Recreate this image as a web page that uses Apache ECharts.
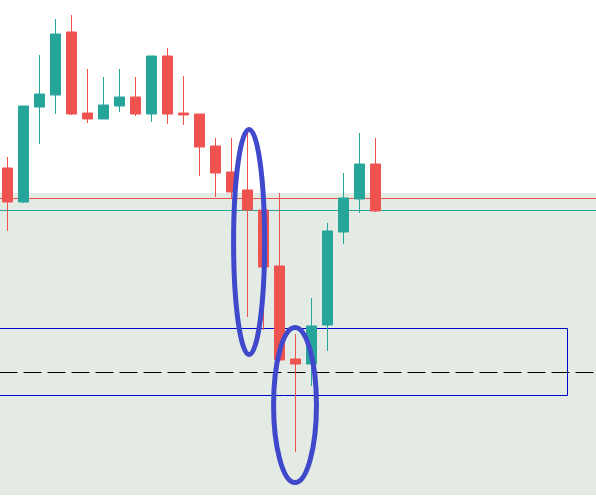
<!DOCTYPE html>
<html>
<head>
<meta charset="utf-8">
<script src="https://cdn.jsdelivr.net/npm/echarts@6/dist/echarts.min.js"></script>
<style>
  html, body { margin: 0; padding: 0; background: #fff; }
  #chart { width: 596px; height: 498px; }
</style>
</head>
<body>
<div id="chart"></div>
<script>
// candle values (price units)
const opens  = [330, 296, 391, 403, 466, 385, 379, 392, 401, 384, 442, 385, 384, 352, 326, 308, 288, 232, 139, 134, 173, 266, 299, 334];
const closes = [296, 392, 404, 464, 384, 379, 393, 401, 384, 442, 384, 383, 351, 325, 306, 288, 231, 138, 134, 172, 267, 300, 334, 287];
const lows   = [267, 295, 354, 384, 383, 375, 379, 386, 382, 376, 374, 373, 322, 301, 299, 181, 168, 136,  46, 112, 147, 254, 285, 286];
const highs  = [341, 392, 443, 479, 483, 429, 421, 429, 421, 442, 450, 422, 384, 360, 360, 365, 288, 305, 164, 200, 275, 325, 365, 360];

// empty slots continue to the right edge
const slotCount = 38;
const categories = Array.from({ length: slotCount }, (_, i) => String(i + 1));

// horizontal levels
const zoneTop = 305;
const zoneBottom = 3;
const redLevel = 299.5;
const tealLevel = 287.5;
const dashLevel = 125.5;
const boxTop = 169.5;
const boxBottom = 102.5;
const boxEndSlot = 35;

// highlight ellipses: [slot, price, half width in slots, half height in price]
const ellipses = [
  [15.1, 256, 0.97, 112.5],
  [17.97, 93, 1.34, 77.5],
];

const UP = "#26a69a";
const DOWN = "#ef5350";

const chart = echarts.init(document.getElementById("chart"));

const candles = opens.map((o, i) => [o, closes[i], lows[i], highs[i]]);

const option = {
  animation: false,
  backgroundColor: "#ffffff",
  grid: { left: -0.5, top: 0, width: 608, height: 498, outerBoundsMode: "none", containLabel: false },
  xAxis: {
    type: "category",
    data: categories,
    show: false,
  },
  yAxis: {
    type: "value",
    min: 0,
    max: 498,
    show: false,
    splitLine: { show: false },
  },
  series: [
    {
      type: "candlestick",
      data: candles,
      barWidth: 10,
      z: 2,
      itemStyle: {
        color: UP,
        color0: DOWN,
        borderColor: UP,
        borderColor0: DOWN,
        borderWidth: 1,
      },
      markArea: {
        silent: true,
        z: 1,
        data: [
          [
            { xAxis: -Infinity, yAxis: zoneTop, itemStyle: { color: "#e4ebe4" } },
            { xAxis: Infinity, yAxis: zoneBottom },
          ],
          [
            {
              xAxis: -Infinity,
              yAxis: boxTop,
              itemStyle: { color: "rgba(0,0,0,0)", borderColor: "#0000cc", borderWidth: 1 },
            },
            { xAxis: boxEndSlot, yAxis: boxBottom },
          ],
        ],
      },
      markLine: {
        silent: true,
        symbol: ["none", "none"],
        z: 1.5,
        label: { show: false },
        data: [
          { yAxis: redLevel, lineStyle: { color: DOWN, width: 1, type: "solid" } },
          { yAxis: tealLevel, lineStyle: { color: UP, width: 1, type: "solid" } },
          { yAxis: dashLevel, lineStyle: { color: "#000000", width: 1.2, type: [18, 6] } },
        ],
      },
    },
  ],
};

chart.setOption(option);

// ellipses placed through the chart's own axes
function slotToPx(slot, price) {
  const i0 = Math.floor(slot);
  const a = chart.convertToPixel({ gridIndex: 0 }, [i0, price]);
  const b = chart.convertToPixel({ gridIndex: 0 }, [i0 + 1, price]);
  return [a[0] + (slot - i0) * (b[0] - a[0]), a[1]];
}

const graphics = ellipses.map(([slot, price, hw, hh]) => {
  const c = slotToPx(slot, price);
  const r = slotToPx(slot + hw, price);
  const t = chart.convertToPixel({ gridIndex: 0 }, [0, price + hh]);
  return {
    type: "ellipse",
    z: 100,
    silent: true,
    shape: { cx: c[0], cy: c[1], rx: r[0] - c[0], ry: c[1] - t[1] },
    style: { fill: "none", stroke: "#4048cc", lineWidth: 5 },
  };
});

chart.setOption({ graphic: graphics });
</script>
</body>
</html>
